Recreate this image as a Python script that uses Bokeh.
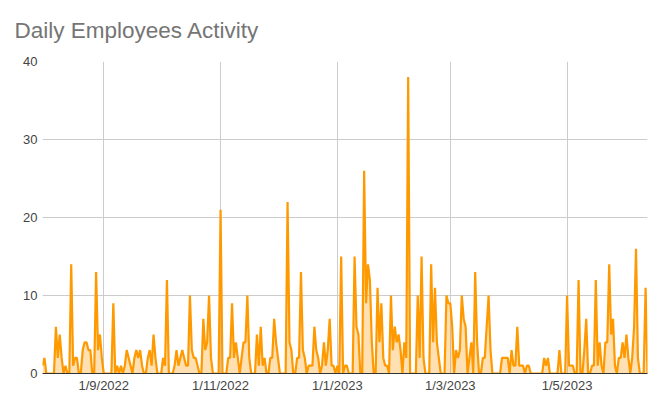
import pandas as pd
from bokeh.plotting import figure
from bokeh.models import Range1d, FixedTicker
from bokeh.embed import file_html
from bokeh.resources import INLINE

title_text = "Daily Employees Activity"
start_date = "2022-07-31"

activity = [
    1, 2, 0, 0, 0, 0, 0, 6, 2, 5,
    2, 0, 1, 0, 0, 14, 1, 2, 2, 0,
    0, 3, 4, 4, 3, 3, 0, 0, 13, 3,
    5, 2, 0, 0, 0, 0, 0, 9, 0, 1,
    0, 1, 0, 1, 3, 2, 1, 0, 2, 3,
    2, 3, 1, 0, 0, 2, 3, 1, 5, 2,
    0, 0, 0, 2, 1, 12, 0, 0, 0, 1,
    3, 1, 2, 3, 2, 1, 1, 10, 3, 2,
    2, 1, 0, 0, 7, 3, 4, 10, 2, 0,
    0, 0, 0, 21, 0, 0, 0, 2, 2, 9,
    2, 4, 2, 0, 2, 4, 4, 10, 2, 0,
    0, 0, 5, 1, 6, 1, 2, 0, 0, 2,
    2, 7, 4, 2, 0, 0, 0, 0, 22, 4,
    3, 0, 0, 2, 2, 13, 3, 2, 0, 1,
    1, 1, 6, 3, 2, 0, 1, 4, 1, 3,
    7, 1, 1, 0, 1, 0, 15, 0, 1, 1,
    0, 0, 0, 15, 6, 5, 0, 0, 26, 9,
    14, 12, 4, 0, 0, 11, 4, 9, 2, 1,
    1, 0, 10, 3, 6, 4, 5, 3, 0, 4,
    2, 38, 0, 0, 0, 0, 10, 2, 15, 2,
    0, 0, 0, 14, 4, 11, 4, 2, 0, 0,
    0, 10, 9, 9, 6, 0, 3, 2, 3, 10,
    7, 6, 0, 2, 4, 0, 13, 4, 0, 0,
    2, 2, 6, 10, 3, 0, 0, 0, 0, 0,
    2, 2, 2, 2, 0, 3, 1, 1, 6, 1,
    1, 1, 0, 1, 1, 0, 0, 0, 0, 0,
    0, 0, 2, 1, 2, 0, 0, 0, 0, 0,
    3, 0, 0, 0, 10, 1, 1, 1, 0, 0,
    12, 0, 0, 3, 7, 0, 0, 1, 1, 12,
    1, 4, 1, 0, 4, 4, 14, 5, 7, 1,
    0, 2, 2, 4, 2, 5, 2, 0, 2, 6,
    16, 2, 0, 0, 0, 11, 0,
]

tick_dates = ["2022-09-01", "2022-11-01", "2023-01-01", "2023-03-01", "2023-05-01"]
tick_labels = ["1/9/2022", "1/11/2022", "1/1/2023", "1/3/2023", "1/5/2023"]
y_ticks = [0, 10, 20, 30, 40]

dates = pd.date_range(start_date, periods=len(activity), freq="D")

p = figure(
    width=656, height=400,
    x_axis_type="datetime",
    output_backend="svg",
    toolbar_location=None,
    x_range=Range1d(dates[0], dates[-1]),
    y_range=Range1d(0, 40),
    min_border_left=42, min_border_right=9,
    min_border_top=61, min_border_bottom=27,
)
p.outline_line_color = None

p.title.text = title_text
p.title.text_font = "Liberation Sans"
p.title.text_font_size = "22.5px"
p.title.text_font_style = "normal"
p.title.text_color = "#757575"
p.title.align = "left"
p.title.vertical_align = "top"
p.title.offset = -28
p.title.standoff = 34

p.varea(x=dates, y1=0, y2=activity, fill_color="#ff9900", fill_alpha=0.3)
p.line(x=dates, y=activity, line_color="#ff9900", line_width=2.2)

tick_ms = [pd.Timestamp(d).value // 10**6 for d in tick_dates]
p.xaxis.ticker = FixedTicker(ticks=tick_ms)
p.xaxis.major_label_overrides = {t: lab for t, lab in zip(tick_ms, tick_labels)}
p.yaxis.ticker = FixedTicker(ticks=y_ticks)

for ax in (p.xaxis, p.yaxis):
    ax.major_tick_line_color = None
    ax.minor_tick_line_color = None
    ax.major_tick_out = 0
    ax.minor_tick_out = 0
    ax.major_label_text_font = "Liberation Sans"
    ax.major_label_text_font_size = "13px"
    ax.major_label_text_color = "#444444"
p.yaxis.axis_line_color = None
p.xaxis.axis_line_color = "#333333"
p.xaxis.major_label_standoff = 4
p.yaxis.major_label_standoff = 5

p.xgrid.grid_line_color = "#cccccc"
p.ygrid.grid_line_color = "#cccccc"
p.xgrid.ticker = p.xaxis.ticker
p.ygrid.ticker = p.yaxis.ticker

open("out.html", "w").write(file_html(p, INLINE))
